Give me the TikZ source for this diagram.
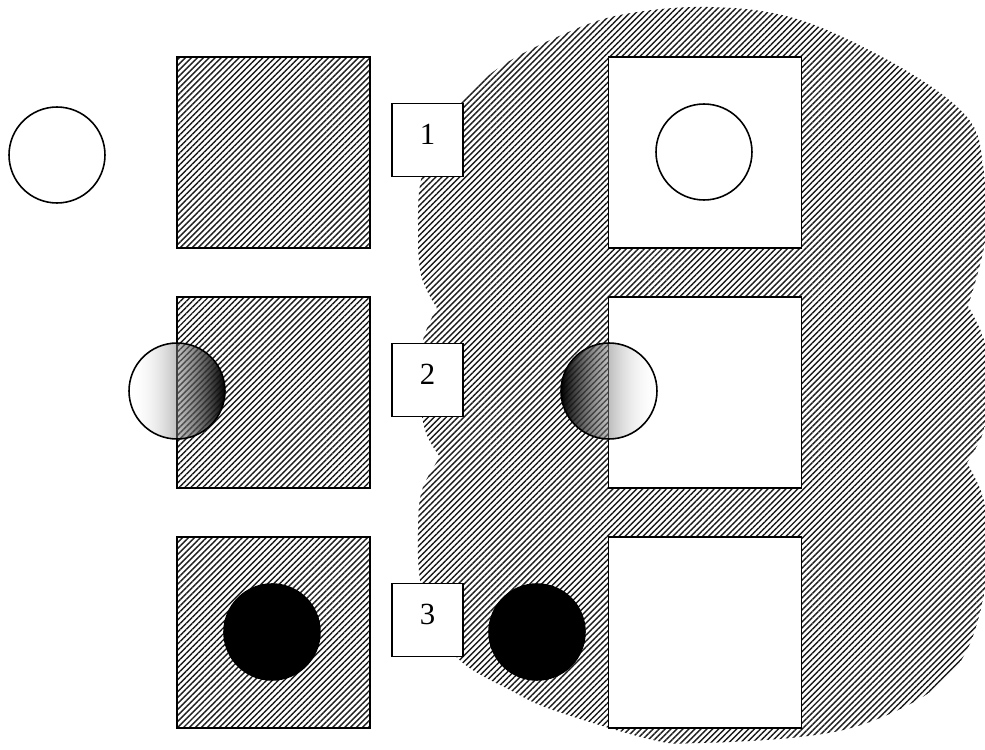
\documentclass[tikz,border=0pt]{standalone}
\usepackage{fontspec}
\setmainfont{Liberation Serif}
\usetikzlibrary{patterns.meta, fadings}
\definecolor{hatchink}{HTML}{1A1A1A}
\tikzfading[name=solideast, left color=transparent!100, right color=transparent!0]
\tikzfading[name=solidwest, left color=transparent!0, right color=transparent!100]

\begin{document}
\begin{tikzpicture}[x=0.02cm, y=-0.02cm,
    hatch/.style={pattern={Lines[angle=45, distance=2.4pt, line width=0.8pt]}, pattern color=hatchink},
    plate/.style={rectangle, draw=black, line width=1.1pt, minimum width=3.86cm, minimum height=3.82cm, inner sep=0pt},
    hatchplate/.style={plate, hatch},
    whiteplate/.style={plate, fill=white},
    tag/.style={rectangle, draw=black, line width=1pt, fill=white, minimum width=1.42cm, minimum height=1.46cm, inner sep=0pt, text depth=0.24cm, font=\fontsize{17.5}{20}\selectfont},
    ball/.style={circle, draw=black, line width=0.9pt, minimum size=1.92cm, inner sep=0pt},
    whiteball/.style={ball, fill=white},
    blackball/.style={ball, fill=black},
    glow/.style={circle, minimum size=1.92cm, inner sep=0pt},
    glowright/.style={glow, left color=white, right color=black, path fading=solideast},
    glowleft/.style={glow, left color=black, right color=white, path fading=solidwest}
]
\useasboundingbox (0,0) rectangle (985,750);

% hatched cloud behind the right column
\fill[hatch] plot[smooth, tension=0.6] coordinates {(437,308) (421,275) (418,225) (421,180) (438,132) (463,100) (500,67) (557,37) (620,15) (710,7) (800,20) (900,67) (967,117) (983,165) (986,235) (968,306)}
    -- plot[smooth, tension=0.6] coordinates {(968,306) (984,340) (990,385) (984,430) (967,463)}
    -- plot[smooth, tension=0.6] coordinates {(967,463) (983,497) (988,540) (985,590) (967,650) (933,690) (867,723) (800,737) (700,743) (653,740) (553,710) (510,690) (463,663) (432,625) (420,580) (418,530) (422,490) (440,457)}
    -- plot[smooth, tension=0.6] coordinates {(440,457) (425,430) (419,385) (423,340) (437,308)} -- cycle;

\node[hatchplate] (lplate1) at (273.5,152.5) {};
\node[hatchplate] (lplate2) at (273.5,392.5) {};
\node[hatchplate] (lplate3) at (273.5,632.5) {};

\node[whiteplate] (rplate1) at (705,152.5) {};
\node[whiteplate] (rplate2) at (705,392.5) {};
\node[whiteplate] (rplate3) at (705,632.5) {};

\node[tag] (tag1) at (427.5,140) {1};
\node[tag] (tag2) at (427.5,380) {2};
\node[tag] (tag3) at (427.5,620) {3};

\node[whiteball] (lball1) at (57,155) {};
\node[whiteball] (rball1) at (704,152) {};

% half-lit balls: shaded body, then the outline on top
\node[glowright] (lball2) at (177,391) {};
\node[glowleft] (rball2) at (609,391) {};
\node[ball] at (lball2) {};
\node[ball] at (rball2) {};

\node[blackball] (lball3) at (272,632) {};
\node[blackball] (rball3) at (537,632) {};
\end{tikzpicture}
\end{document}
